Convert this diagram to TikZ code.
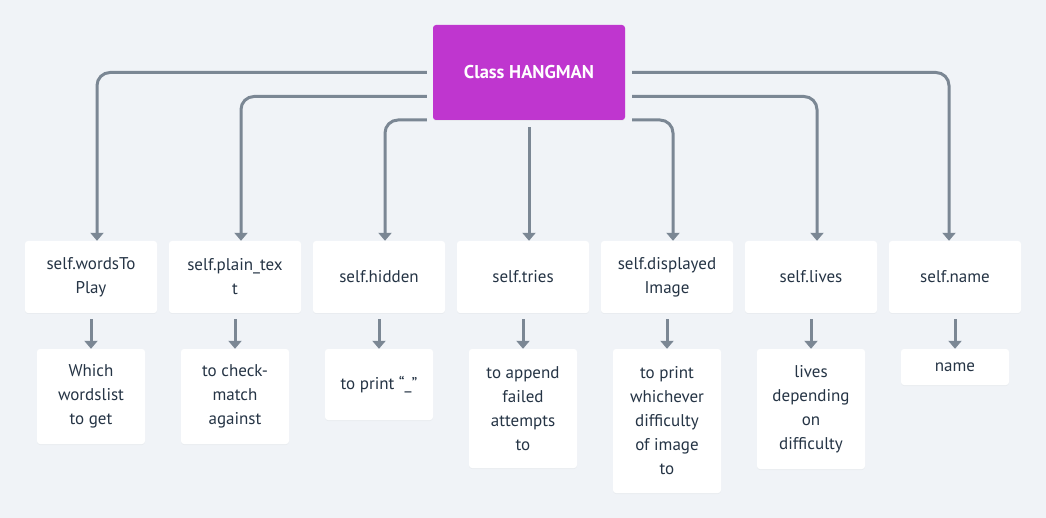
\documentclass[tikz,border=0pt]{standalone}
\usepackage{fontspec}
\setmainfont{PT Sans}
\usetikzlibrary{arrows.meta,shadows}
\definecolor{bg}{HTML}{F0F3F7}
\definecolor{conncol}{HTML}{7B8794}
\definecolor{txtcol}{HTML}{253445}
\definecolor{maincol}{HTML}{BF36CF}
\tikzset{
  box/.style={draw=none,fill=white,rounded corners=3pt,text=txtcol,align=center,
    font=\fontsize{17}{24}\selectfont,inner sep=0pt,
    drop shadow={opacity=0.06,shadow xshift=0pt,shadow yshift=-1pt}},
  rowone/.style={box,minimum width=132pt,minimum height=72pt},
  rowtwo/.style={box,minimum width=108pt},
  mainbox/.style={fill=maincol,rounded corners=3pt,text=white,minimum width=192pt,minimum height=95pt,
    font=\fontsize{18.5}{20}\selectfont\bfseries,inner sep=0pt,
    drop shadow={opacity=0.08,shadow xshift=0pt,shadow yshift=-1pt}},
  conn/.style={draw=conncol,line width=3pt,rounded corners=13pt,-{Triangle[width=13pt,length=8pt]}},
  sconn/.style={draw=conncol,line width=3pt,-{Triangle[width=13pt,length=8pt]}}
}
\begin{document}
\begin{tikzpicture}[x=1pt,y=-1pt]
\fill[bg] (0,0) rectangle (1046,518);
\useasboundingbox (0,0) rectangle (1046,518);
\node[mainbox] (main) at (529,72.5) {Class HANGMAN};
% row one
\node[rowone] (b1) at (91,277) {self.wordsTo\\Play};
\node[rowone] (b2) at (235,277) {self.plain\_tex\\t};
\node[rowone] (b3) at (379,277) {self.hidden};
\node[rowone] (b4) at (523,277) {self.tries};
\node[rowone] (b5) at (667,277) {self.displayed\\Image};
\node[rowone] (b6) at (811,277) {self.lives};
\node[rowone] (b7) at (955,277) {self.name};
% row two
\node[rowtwo,minimum height=95pt] (c1) at (91,396.5) {Which\\wordslist\\to get};
\node[rowtwo,minimum height=95pt] (c2) at (235,396.5) {to check-\\match\\against};
\node[rowtwo,minimum height=71pt] (c3) at (379,384.5) {to print “\_”};
\node[rowtwo,minimum height=119pt] (c4) at (523,408.5) {to append\\failed\\attempts\\to};
\node[rowtwo,minimum height=144pt] (c5) at (667,421) {to print\\whichever\\difficulty\\of image\\to};
\node[rowtwo,minimum height=120pt] (c6) at (811,409) {lives\\depending\\on\\difficulty};
\node[rowtwo,minimum height=36pt] (c7) at (955,367) {name};
% start points on main box
\coordinate (l1) at ([xshift=-6pt,yshift=0pt]main.west);
\coordinate (l2) at ([xshift=-6pt,yshift=-24pt]main.west);
\coordinate (l3) at ([xshift=-6pt,yshift=-47.5pt]main.west);
\coordinate (r1) at ([xshift=7pt,yshift=0pt]main.east);
\coordinate (r2) at ([xshift=7pt,yshift=-24pt]main.east);
\coordinate (r3) at ([xshift=7pt,yshift=-47.5pt]main.east);
\coordinate (m0) at ([yshift=-7pt]main.south);
\draw[conn] (l1) -| ([xshift=6pt]b1.north);
\draw[conn] (l2) -| ([xshift=6pt]b2.north);
\draw[conn] (l3) -| ([xshift=6pt]b3.north);
\draw[sconn] (m0) -- ([xshift=6pt]b4.north);
\draw[conn] (r3) -| ([xshift=6pt]b5.north);
\draw[conn] (r2) -| ([xshift=6pt]b6.north);
\draw[conn] (r1) -| ([xshift=-6pt]b7.north);
% second level
\foreach \i in {1,...,7}{
  \draw[sconn] ([yshift=-6pt]b\i.south) -- (c\i.north);
}
\end{tikzpicture}
\end{document}
